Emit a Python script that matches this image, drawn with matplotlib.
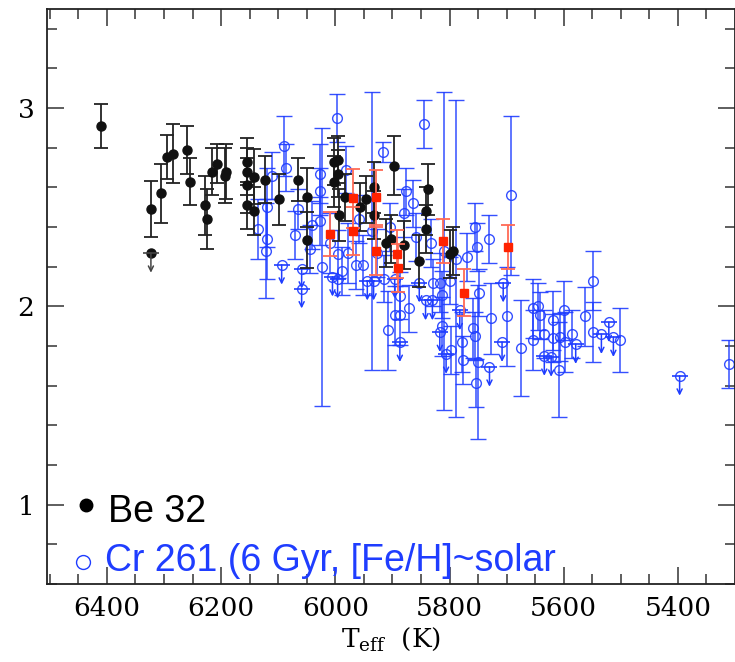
import matplotlib
matplotlib.use('Agg')
import matplotlib.pyplot as plt

plt.rcParams['mathtext.fontset'] = 'dejavuserif'

# Be 32 (filled black circles)
be_teff = [6411, 6323, 6306, 6294, 6284, 6259, 6254, 6229, 6225, 6216, 6208, 6194, 6192,
           6154, 6154, 6154, 6154, 6142, 6142, 6123, 6098, 6065, 6049, 6049, 6003, 5995,
           5995, 6003, 5983, 5994, 5956, 5947, 5932, 5932, 5898, 5912, 5903, 5880, 5838,
           5842, 5842, 5853, 5800, 5794]
be_li = [2.91, 2.49, 2.57, 2.755, 2.77, 2.79, 2.63, 2.51, 2.44, 2.68, 2.72, 2.66, 2.68,
         2.73, 2.68, 2.61, 2.51, 2.655, 2.48, 2.64, 2.54, 2.64, 2.55, 2.335, 2.73, 2.74,
         2.67, 2.63, 2.55, 2.46, 2.50, 2.54, 2.60, 2.46, 2.71, 2.32, 2.34, 2.31, 2.59,
         2.48, 2.39, 2.23, 2.265, 2.28]
be_err = [0.11, 0.14, 0.15, 0.11, 0.15, 0.12, 0.12, 0.15, 0.15, 0.12, 0.10, 0.14, 0.14,
          0.12, 0.12, 0.14, 0.12, 0.14, 0.12, 0.12, 0.13, 0.11, 0.15, 0.14, 0.12, 0.12,
          0.12, 0.13, 0.12, 0.13, 0.12, 0.12, 0.13, 0.12, 0.15, 0.12, 0.12, 0.12, 0.13,
          0.12, 0.12, 0.13, 0.12, 0.12]
be_ul_teff = [6323]
be_ul_li = [2.27]

# Be 32 red squares
red_teff = [6010, 5969, 5969, 5929, 5929, 5892, 5890, 5812, 5774, 5698]
red_li = [2.365, 2.545, 2.38, 2.55, 2.28, 2.265, 2.195, 2.33, 2.07, 2.30]
red_err = [0.11, 0.15, 0.12, 0.14, 0.12, 0.12, 0.12, 0.11, 0.12, 0.11]

# Cr 261 detections (open blue circles)
cr_teff = [6090, 6087, 6111, 6119, 6119, 6122, 6071, 6066, 6045, 6027, 6027, 6027, 6024,
           6010, 5995, 5997, 5982, 5978, 5988, 5963, 5951, 5927, 5935, 5914, 5908, 5896,
           5887, 5887, 5871, 5880, 5864, 5916, 5876, 5845, 5829, 5832, 5817, 5814, 5814,
           5797, 5799, 5810, 5788, 5779, 5776, 5769, 5759, 5755, 5754, 5750, 5755, 5751,
           5731, 5748, 5727, 5699, 5692, 5674, 5654, 5654, 5645, 5642, 5634, 5619, 5618,
           5607, 5599, 5597, 5585, 5609, 5562, 5549, 5549, 5501, 5310, 6136, 6040, 5958,
           5905, 5858]
cr_li = [2.81, 2.70, 2.66, 2.50, 2.34, 2.28, 2.36, 2.49, 2.29, 2.67, 2.58, 2.43, 2.20,
         2.32, 2.265, 2.95, 2.69, 2.27, 2.18, 2.21, 2.21, 2.27, 2.38, 2.14, 1.88, 1.955,
         1.955, 2.055, 1.99, 2.47, 2.52, 2.78, 2.58, 2.92, 2.12, 2.32, 2.12, 2.06, 1.90,
         1.78, 2.13, 2.28, 2.24, 1.82, 1.73, 2.25, 1.89, 1.85, 1.615, 1.72, 2.40, 2.30,
         2.34, 2.07, 1.94, 1.95, 2.56, 1.79, 1.99, 1.83, 2.00, 1.955, 1.86, 1.93, 1.84,
         1.845, 1.98, 1.82, 1.86, 1.68, 1.95, 2.13, 1.87, 1.83, 1.71, 2.39, 2.41, 2.44,
         2.40, 2.35]
cr_err = [0.15, 0.12, 0.12, 0.20, 0.20, 0.24, 0.12, 0.10, 0.12, 0.15, 0.12, 0.12, 0.70,
          0.15, 0.12, 0.12, 0.12, 0.15, 0.12, 0.12, 0.15, 0.12, 0.70, 0.12, 0.20, 0.15,
          0.15, 0.12, 0.12, 0.12, 0.12, 0.05, 0.12, 0.12, 0.12, 0.12, 0.15, 0.12, 0.15,
          0.12, 0.12, 0.80, 0.80, 0.15, 0.12, 0.12, 0.15, 0.12, 0.12, 0.39, 0.12, 0.12,
          0.12, 0.12, 0.18, 0.25, 0.40, 0.24, 0.15, 0.15, 0.12, 0.12, 0.12, 0.15, 0.12,
          0.12, 0.15, 0.15, 0.12, 0.24, 0.15, 0.15, 0.15, 0.16, 0.12, 0.15, 0.12, 0.12,
          0.12, 0.12]

# Cr 261 upper limits
cr_ul_teff = [6094, 6059, 6059, 6005, 5996, 5944, 5933, 5896, 5887, 5853, 5842, 5830,
              5817, 5806, 5782, 5730, 5706, 5708, 5634, 5579, 5622, 5534, 5521, 5513, 5397]
cr_ul_li = [2.21, 2.19, 2.09, 2.15, 2.14, 2.13, 2.13, 2.14, 1.82, 2.12, 2.03, 2.03,
            1.87, 1.76, 1.98, 1.695, 2.12, 1.82, 1.75, 1.81, 1.745, 1.86, 1.92, 1.845, 1.65]

blue = '#1f3dff'
black = '#111111'

fig = plt.figure(figsize=(7.35, 6.62), dpi=100)
ax = fig.add_axes([47 / 735, 78 / 662, 688 / 735, 575 / 662])


def upper_limits(teff, li, color, z):
    ax.plot(teff, li, ls='none', marker='_', ms=12, mew=1.2, color=color, zorder=z)
    for t, v in zip(teff, li):
        ax.annotate('', xy=(t, v - 0.1), xytext=(t, v),
                    arrowprops=dict(arrowstyle='->', color=color, lw=1.1,
                                    shrinkA=0, shrinkB=0, mutation_scale=9),
                    zorder=z)


ax.errorbar(be_teff, be_li, yerr=be_err, fmt='o', ms=6.5, color=black, mfc=black,
            mec=black, ecolor='#222222', elinewidth=1.3, capsize=5, capthick=1.3, zorder=3)
ax.plot(be_ul_teff, be_ul_li, 'o', ms=6.5, color=black, zorder=3)
upper_limits(be_ul_teff, be_ul_li, '#444444', 3)

ax.errorbar(cr_teff, cr_li, yerr=cr_err, fmt='o', ms=7, mfc='none', mec=blue, mew=1.0,
            ecolor=blue, elinewidth=1.1, capsize=5.5, capthick=1.1, alpha=0.9, zorder=2)
ax.plot(cr_ul_teff, cr_ul_li, 'o', ms=7, mfc='none', mec=blue, mew=1.0, alpha=0.9, zorder=2)
upper_limits(cr_ul_teff, cr_ul_li, blue, 2)

ax.errorbar(red_teff, red_li, yerr=red_err, fmt='s', ms=5.5, color='#ff2200',
            ecolor='#ff6a55', elinewidth=1.3, capsize=5, capthick=1.3, zorder=4)

ax.set_xlim(6505, 5300)
ax.set_ylim(0.6, 3.5)
ax.set_xticks([6400, 6200, 6000, 5800, 5600, 5400])
ax.set_xticks(range(5350, 6501, 50), minor=True)
ax.set_yticks([1, 2, 3])
ax.set_yticks([0.6 + 0.2 * i for i in range(15)], minor=True)
ax.tick_params(which='both', direction='in', top=True, right=True, width=1.1,
               color='#333333', labelsize=19, pad=9)
ax.tick_params(which='major', length=12)
ax.tick_params(which='minor', length=7)
for lab in ax.get_xticklabels() + ax.get_yticklabels():
    lab.set_fontfamily('DejaVu Serif')
for sp in ax.spines.values():
    sp.set_linewidth(1.3)
    sp.set_color('#222222')

ax.set_xlabel(r'T$_{\rm eff}$  (K)', fontsize=19, family='DejaVu Serif', labelpad=3)

# legend drawn by hand
ax.plot([0.057], [0.137], 'o', ms=9, color='black', transform=ax.transAxes, clip_on=False)
ax.text(0.088, 0.126, 'Be 32', transform=ax.transAxes, fontsize=27,
        family='Liberation Sans', color='black', va='center')
ax.plot([0.052], [0.038], 'o', ms=10, mfc='white', mec=blue, mew=1.0,
        transform=ax.transAxes, clip_on=False)
ax.text(0.084, 0.040, 'Cr 261 (6 Gyr, [Fe/H]~solar', transform=ax.transAxes, fontsize=27,
        family='Liberation Sans', color=blue, va='center')

fig.savefig('out.png', dpi=100)
